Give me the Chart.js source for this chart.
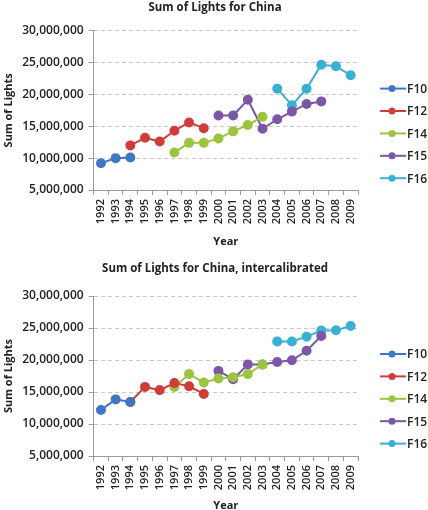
<!DOCTYPE html>
<html>
<head>
<meta charset="utf-8">
<script src="https://cdn.jsdelivr.net/npm/chart.js@4.4.0/dist/chart.umd.min.js"></script>
<style>
  html, body { margin: 0; padding: 0; background: #fff; overflow: hidden; }
  .box { position: absolute; left: 0; width: 428px; }
  #top { top: 0; height: 250px; }
  #bottom { top: 250px; height: 264px; }
</style>
</head>
<body>
<div class="box" id="top"><canvas id="rawChart" width="428" height="250"></canvas></div>
<div class="box" id="bottom"><canvas id="calChart" width="428" height="264"></canvas></div>
<script>
const years = ['1992', '1993', '1994', '1995', '1996', '1997', '1998', '1999', '2000',
  '2001', '2002', '2003', '2004', '2005', '2006', '2007', '2008', '2009'];
const satellites = ['F10', 'F12', 'F14', 'F15', 'F16'];
const yTicks = [5000000, 10000000, 15000000, 20000000, 25000000, 30000000];

// raw sum of lights, one array per satellite (null = no data)
const rawF10 = [9.2e6, 10.0e6, 10.1e6, null, null, null, null, null, null, null, null, null, null, null, null, null, null, null];
const rawF12 = [null, null, 12.0e6, 13.2e6, 12.6e6, 14.3e6, 15.6e6, 14.7e6, null, null, null, null, null, null, null, null, null, null];
const rawF14 = [null, null, null, null, null, 10.9e6, 12.4e6, 12.4e6, 13.1e6, 14.2e6, 15.2e6, 16.5e6, null, null, null, null, null, null];
const rawF15 = [null, null, null, null, null, null, null, null, 16.7e6, 16.7e6, 19.15e6, 14.6e6, 16.1e6, 17.3e6, 18.5e6, 18.9e6, null, null];
const rawF16 = [null, null, null, null, null, null, null, null, null, null, null, null, 20.9e6, 18.3e6, 20.9e6, 24.65e6, 24.4e6, 23.0e6];

// intercalibrated sum of lights
const calF10 = [12.2e6, 13.85e6, 13.45e6, null, null, null, null, null, null, null, null, null, null, null, null, null, null, null];
const calF12 = [null, null, 13.45e6, 15.8e6, 15.3e6, 16.4e6, 15.9e6, 14.7e6, null, null, null, null, null, null, null, null, null, null];
const calF14 = [null, null, null, null, null, 15.8e6, 17.8e6, 16.5e6, 17.1e6, 17.3e6, 17.8e6, 19.3e6, null, null, null, null, null, null];
const calF15 = [null, null, null, null, null, null, null, null, 18.3e6, 17.0e6, 19.3e6, 19.3e6, 19.7e6, 19.95e6, 21.45e6, 23.75e6, null, null];
const calF16 = [null, null, null, null, null, null, null, null, null, null, null, null, 22.9e6, 22.9e6, 23.65e6, 24.6e6, 24.65e6, 25.3e6];

const colors = ['#4176c2', '#cf3d3b', '#9cc43f', '#7a58a6', '#3ab0d2'];
const FONT = "'Open Sans', sans-serif";

// Excel-like legend on the right: short line with a marker, label next to it.
// Added as a layout box so the title still centres on the whole canvas.
const sideLegend = {
  id: 'sideLegend',
  beforeInit(chart) {
    const box = {
      position: 'right', weight: 0, fullSize: false, options: {},
      left: 0, top: 0, right: 0, bottom: 0, width: 0, height: 0,
      isHorizontal() { return false; },
      update(maxWidth, maxHeight) { this.width = 70; this.height = maxHeight; },
      draw() {
        const ctx = chart.ctx;
        const area = chart.chartArea;
        const x0 = this.left + 22;
        ctx.save();
        chart.data.datasets.forEach((ds, i) => {
          const y = area.top + 58 + i * 22.4;
          ctx.strokeStyle = ds.borderColor;
          ctx.lineWidth = 2;
          ctx.beginPath();
          ctx.moveTo(x0, y);
          ctx.lineTo(x0 + 26, y);
          ctx.stroke();
          ctx.fillStyle = ds.borderColor;
          ctx.beginPath();
          ctx.arc(x0 + 12, y, 3.5, 0, Math.PI * 2);
          ctx.fill();
          ctx.fillStyle = '#222';
          ctx.font = '600 12px ' + FONT;
          ctx.textBaseline = 'middle';
          ctx.textAlign = 'left';
          ctx.fillText(ds.label, x0 + 27, y + 1);
        });
        ctx.restore();
      }
    };
    Chart.layouts.addBox(chart, box);
  }
};

function makeChart(id, title, series, titlePad, yearPad) {
  const ctx = document.getElementById(id).getContext('2d');
  return new Chart(ctx, {
    type: 'line',
    data: {
      labels: years,
      datasets: series.map((vals, i) => ({
        label: satellites[i],
        data: vals,
        borderColor: colors[i],
        backgroundColor: colors[i],
        borderWidth: 2,
        pointRadius: 4,
        pointHoverRadius: 4,
        spanGaps: false,
        tension: 0
      }))
    },
    options: {
      responsive: false,
      animation: false,
      layout: { padding: { left: 2, right: 0, top: 0, bottom: 0 } },
      plugins: {
        legend: { display: false },
        tooltip: { enabled: false },
        title: {
          display: true,
          text: title,
          color: '#222',
          font: { family: FONT, size: 11.5, weight: 'bold' },
          padding: titlePad
        }
      },
      scales: {
        x: {
          offset: true,
          grid: { offset: true, drawOnChartArea: false, color: '#9a9a9a', tickLength: 5 },
          border: { color: '#9a9a9a' },
          ticks: {
            color: '#222', minRotation: 90, maxRotation: 90, padding: 4, autoSkip: false,
            font: { family: FONT, size: 11, weight: '600' }
          },
          title: {
            display: true, text: 'Year', color: '#222', padding: { top: yearPad, bottom: 2 },
            font: { family: FONT, size: 11, weight: 'bold' }
          }
        },
        y: {
          min: 5000000,
          max: 30000000,
          afterBuildTicks: (scale) => { scale.ticks = yTicks.map(v => ({ value: v })); },
          grid: { color: '#c9c9c9', tickColor: '#9a9a9a', tickLength: 5, tickBorderDash: [] },
          // in v4 border.dash dashes the grid lines; the axis line itself stays solid
          border: { color: '#9a9a9a', dash: [4, 3] },
          ticks: {
            color: '#222', padding: 5,
            font: { family: FONT, size: 12, weight: '600' },
            callback: (v) => v.toLocaleString('en-US')
          },
          title: {
            display: true, text: 'Sum of Lights', color: '#222', padding: { top: 0, bottom: 2 },
            font: { family: FONT, size: 11, weight: 'bold' }
          }
        }
      }
    },
    plugins: [sideLegend]
  });
}

makeChart('rawChart', 'Sum of Lights for China',
  [rawF10, rawF12, rawF14, rawF15, rawF16], { top: 0.5, bottom: 16.3 }, 6.6);
makeChart('calChart', 'Sum of Lights for China, intercalibrated',
  [calF10, calF12, calF14, calF15, calF16], { top: 12.1, bottom: 20.1 }, 4.6);
</script>
</body>
</html>
